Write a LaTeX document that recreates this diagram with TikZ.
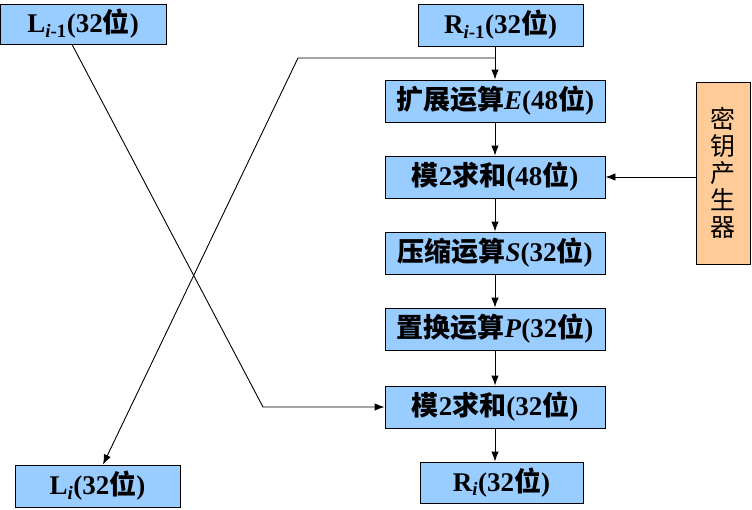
\documentclass[tikz,border=0pt]{standalone}
\usepackage{fontspec}
\setmainfont{Liberation Serif}
\newfontfamily\cjk{Noto Sans CJK SC}
\usetikzlibrary{arrows.meta}
\begin{document}
\begin{tikzpicture}[x=1pt,y=-1pt,
  box/.style={draw=black,line width=0.9pt,fill=blueb,inner sep=0pt,
    minimum width=220pt,minimum height=42pt,
    font=\fontsize{27}{30}\selectfont\bfseries},
  keybox/.style={draw=black,line width=0.9pt,fill=orangeb,inner sep=0pt,
    minimum width=54pt,minimum height=182pt,align=center,
    font=\fontsize{25}{27}\selectfont\cjk},
  conn/.style={line width=0.9pt,draw=black},
  arr/.style={conn,-{Latex[length=10pt,width=7.5pt]}}]
\definecolor{blueb}{HTML}{99CCFF}
\definecolor{orangeb}{HTML}{FFCC99}
\useasboundingbox (0,0) rectangle (752,509);
\node[box,minimum width=166pt,minimum height=40pt] (L0) at (83,24) {L\textsubscript{\textit{i}-1}(32{\cjk 位})};
\node[box,minimum width=165pt] (R0) at (500.5,25) {R\textsubscript{\textit{i}-1}(32{\cjk 位})};
\node[box] (E) at (495,101) {{\cjk 扩展运算}\textit{E}(48{\cjk 位})};
\node[box] (M1) at (495,177) {{\cjk 模}2{\cjk 求和}(48{\cjk 位})};
\node[box] (S) at (495,253) {{\cjk 压缩运算}\textit{S}(32{\cjk 位})};
\node[box] (P) at (495,329) {{\cjk 置换运算}\textit{P}(32{\cjk 位})};
\node[box] (M2) at (495,407) {{\cjk 模}2{\cjk 求和}(32{\cjk 位})};
\node[box,minimum width=163pt,minimum height=41pt] (R1) at (501.5,482.5) {R\textsubscript{\textit{i}}(32{\cjk 位})};
\node[box,minimum width=165pt] (L1) at (97.5,486) {L\textsubscript{\textit{i}}(32{\cjk 位})};
\node[keybox] (K) at (723,173) {密\\钥\\产\\生\\器};
\coordinate (split) at (495,58);
\coordinate (bendL) at (298,58);
\coordinate (bendR) at (263,407);
\draw[arr] (E.north |- R0.south) -- (E.north);
\draw[arr] (split) -- (bendL) -- (L1.north -| 103,0);
\draw[arr] (L0.south -| 72,0) -- (bendR) -- (M2.west);
\draw[arr] (E) -- (M1);
\draw[arr] (M1) -- (S);
\draw[arr] (S) -- (P);
\draw[arr] (P) -- (M2);
\draw[arr] (M2) -- (M2.south |- R1.north);
\draw[arr] (K.west |- M1.east) -- (M1.east);
\end{tikzpicture}
\end{document}
